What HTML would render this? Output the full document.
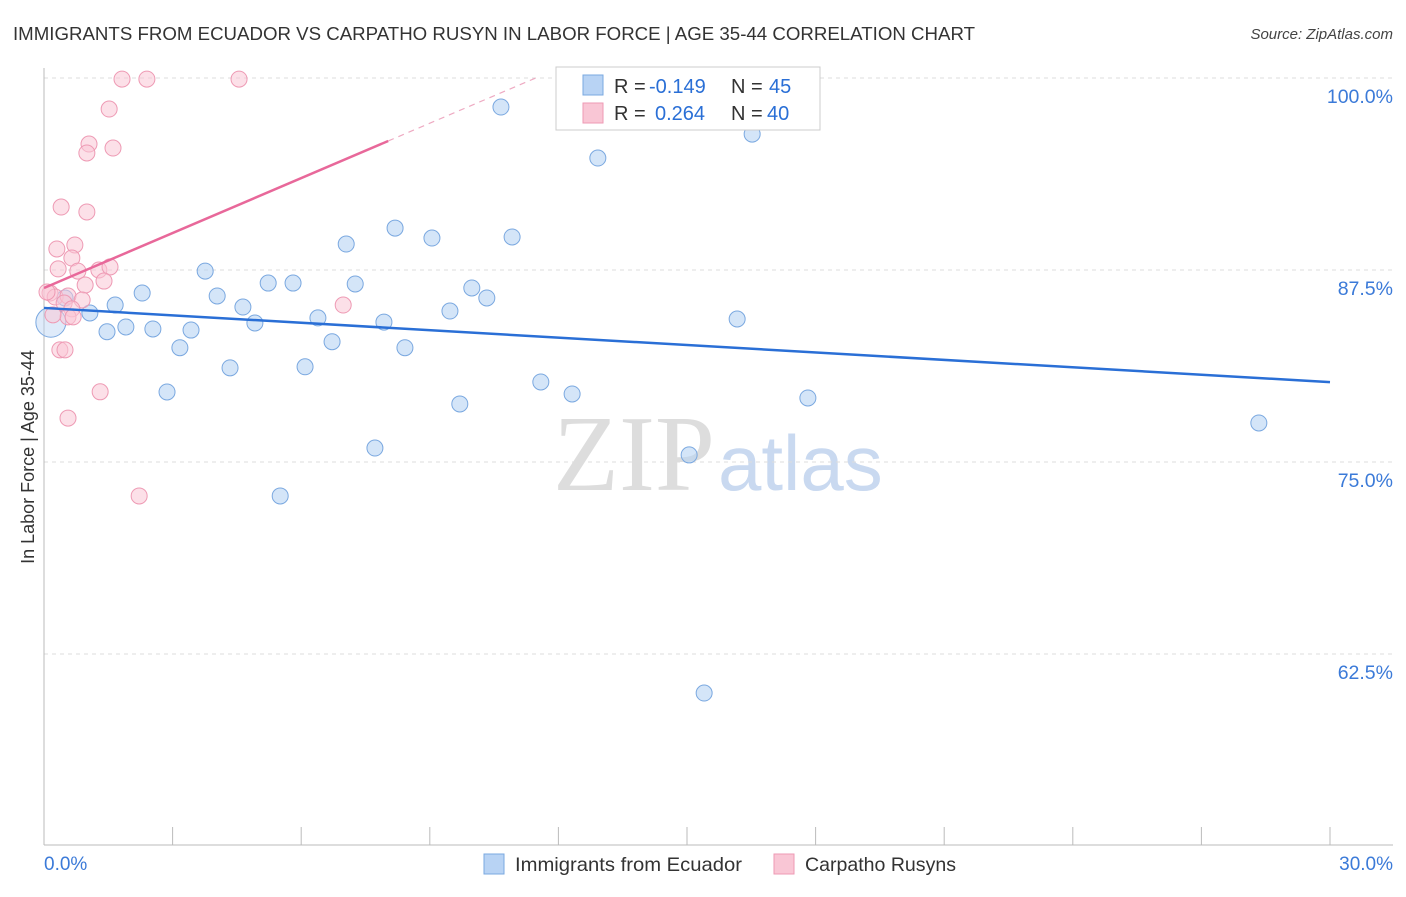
<!DOCTYPE html>
<html><head><meta charset="utf-8"><style>
body{margin:0;background:#fff;font-family:"Liberation Sans",sans-serif}
svg text{font-family:"Liberation Sans",sans-serif}
</style></head><body>
<svg id="chart" width="1406" height="892" xmlns="http://www.w3.org/2000/svg">
<text x="13" y="40" font-size="18.5" fill="#333" textLength="962" lengthAdjust="spacingAndGlyphs">IMMIGRANTS FROM ECUADOR VS CARPATHO RUSYN IN LABOR FORCE | AGE 35-44 CORRELATION CHART</text>
<text x="1393" y="39" font-size="15" fill="#444" font-style="italic" text-anchor="end">Source: ZipAtlas.com</text>
<text x="553" y="490" font-size="108" fill="#ddd" style="font-family:'Liberation Serif',serif">ZIP</text>
<text x="718" y="490" font-size="78" fill="#c9d9f0">atlas</text>
<g id="grid"></g>
<g id="axes"></g>
<g id="marks"></g>
<text transform="translate(34,457) rotate(-90)" font-size="18" fill="#333" text-anchor="middle">In Labor Force | Age 35-44</text>
<g>
<rect x="556" y="67" width="264" height="63" fill="#fff" stroke="#ccc"/>
<rect x="583" y="75" width="20" height="20" fill="#b8d3f4" stroke="#7aa8e0"/>
<rect x="583" y="103" width="20" height="20" fill="#f9c6d5" stroke="#ee9ab4"/>
<text x="614" y="93" font-size="20" fill="#333">R =</text>
<text x="649" y="93" font-size="20" fill="#2a6fd6">-0.149</text>
<text x="731" y="93" font-size="20" fill="#333">N =</text>
<text x="769" y="93" font-size="20" fill="#2a6fd6">45</text>
<text x="614" y="120" font-size="20" fill="#333">R =</text>
<text x="655" y="120" font-size="20" fill="#2a6fd6">0.264</text>
<text x="731" y="120" font-size="20" fill="#333">N =</text>
<text x="767" y="120" font-size="20" fill="#2a6fd6">40</text>
</g>
<g>
<rect x="484" y="854" width="20" height="20" fill="#b8d3f4" stroke="#7aa8e0"/>
<text x="515" y="871" font-size="19.5" fill="#333" textLength="227" lengthAdjust="spacingAndGlyphs">Immigrants from Ecuador</text>
<rect x="774" y="854" width="20" height="20" fill="#f9c6d5" stroke="#ee9ab4"/>
<text x="805" y="871" font-size="19.5" fill="#333" textLength="151" lengthAdjust="spacingAndGlyphs">Carpatho Rusyns</text>
</g>
</svg>
<script>
const xTicks=[0,3,6,9,12,15,18,21,24,27,30];
const yTicks=[62.5,75,87.5,100];
const yTickLabels=["62.5%","75.0%","87.5%","100.0%"];
const xLabels=["0.0%","30.0%"];
const blueX=[10.66,12.92,16.52,8.19,9.05,10.92,7.05,3.76,5.23,5.81,7.26,9.98,10.33,2.29,4.04,4.64,1.66,1.07,0.49,4.92,6.39,7.93,9.47,16.17,1.91,2.54,3.43,1.47,6.72,8.42,3.17,4.34,6.09,11.59,12.32,2.87,9.70,17.82,28.34,7.72,15.05,5.51,15.40,0.09];
const blueY=[98.11,94.79,96.35,90.23,89.58,89.65,89.19,87.43,86.65,86.65,86.59,86.33,85.68,86.0,85.81,85.09,85.22,84.70,85.68,84.05,84.38,84.11,84.83,84.31,83.79,83.66,83.59,83.48,82.83,82.44,82.44,81.13,81.20,80.21,79.43,79.56,78.78,79.17,77.54,75.91,75.46,72.79,59.96,84.1];
const pinkX=[1.82,2.40,4.55,1.52,1.05,1.61,1.00,0.40,1.00,0.30,0.72,0.65,0.33,0.79,1.28,1.54,1.40,0.96,0.14,0.26,0.56,0.89,0.47,0.65,0.56,0.68,6.98,0.37,0.49,1.31,0.56,2.22,0.07,0.21];
const pinkY=[99.93,99.93,99.93,97.98,95.70,95.44,95.12,91.60,91.28,88.87,89.13,88.28,87.57,87.43,87.50,87.70,86.78,86.52,86.0,85.74,85.81,85.55,85.35,84.97,84.45,84.45,85.22,82.30,82.30,79.57,77.86,72.79,86.07,84.58];
const blueTrend=[85.03,80.2];
const pinkTrend=[86.33,95.9];
const X=v=>44+v/30*1286, Y=v=>78+(100-v)/12.5*192;
const NS="http://www.w3.org/2000/svg";
function mk(p,t,a){const e=document.createElementNS(NS,t);for(const k in a)e.setAttribute(k,a[k]);p.appendChild(e);return e;}
const grid=document.getElementById('grid'),axes=document.getElementById('axes'),marks=document.getElementById('marks');
yTicks.forEach((t,i)=>{
 const l=mk(grid,'line',{x1:44,x2:1393,y1:Y(t),y2:Y(t),stroke:'#ddd','stroke-dasharray':'4,4'});
 
 
 const tx=mk(axes,'text',{x:1393,y:Y(t)+25,'font-size':19.5,fill:'#3b7ad8','text-anchor':'end'});
 tx.textContent=yTickLabels[i];
 
 
});
const al=mk(axes,'line',{x1:44,x2:44,y1:68,y2:845,stroke:'#bbb'});


const bl=mk(axes,'line',{x1:44,x2:1393,y1:845,y2:845,stroke:'#bbb'});


xTicks.forEach(t=>{
 const l=mk(axes,'line',{x1:X(t),x2:X(t),y1:827,y2:845,stroke:'#bbb'});
 
 
});
[[0,'start',44],[30,'end',1393]].forEach((d,i)=>{
 const tx=mk(axes,'text',{x:d[2],y:870,'font-size':19,fill:'#3b7ad8','text-anchor':d[1]});
 tx.textContent=xLabels[i];
 
 
});
blueX.forEach((x,i)=>{
 const big=i===blueX.length-1;
 const c=mk(marks,'circle',{cx:X(x)+(big?3:0),cy:Y(blueY[i]),r:big?15:8,fill:'#b8d3f4','fill-opacity':big?0.45:0.6,stroke:'#7aa8e0','stroke-width':1});
 
 
});
pinkX.forEach((x,i)=>{
 const c=mk(marks,'circle',{cx:X(x),cy:Y(pinkY[i]),r:8,fill:'#f9c6d5','fill-opacity':0.55,stroke:'#ee9ab4','stroke-width':1});
 
 
});
const bt=mk(marks,'line',{x1:X(0),y1:Y(blueTrend[0]),x2:X(30),y2:Y(blueTrend[1]),stroke:'#2a6fd6','stroke-width':2.5});


const ps=(pinkTrend[1]-pinkTrend[0])/8.03;
const pt=mk(marks,'line',{x1:X(0),y1:Y(pinkTrend[0]),x2:X(8.03),y2:Y(pinkTrend[1]),stroke:'#e8689a','stroke-width':2.5});


const xe=(100-pinkTrend[0])/ps;
const pd=mk(marks,'line',{x1:X(8.03),y1:Y(pinkTrend[1]),x2:X(xe),y2:Y(100),stroke:'#eeaac2','stroke-width':1.2,'stroke-dasharray':'6,5'});


</script>
</body></html>
